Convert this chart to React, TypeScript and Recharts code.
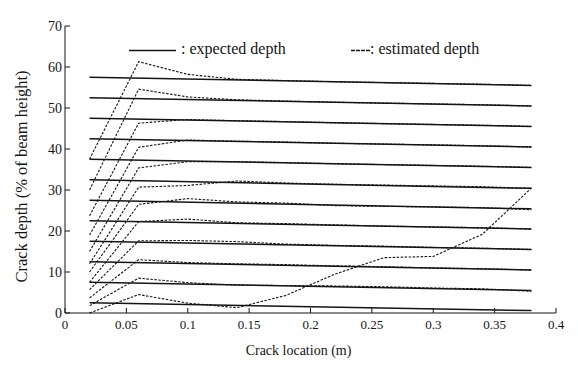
import { LineChart, Line, XAxis, YAxis, Label } from "recharts";

// crack locations (m) where the estimates were taken
const crackX = [0.02, 0.06, 0.1, 0.14, 0.18, 0.22, 0.26, 0.3, 0.34, 0.38];

// expected depth lines, value at x=0.02 and at x=0.38
const expectedStart = [57.5, 52.5, 47.5, 42.5, 37.5, 32.5, 27.5, 22.5, 17.5, 12.5, 7.5, 2.5];
const expectedEnd = [55.5, 50.5, 45.5, 40.5, 35.5, 30.4, 25.4, 20.5, 15.5, 10.5, 5.5, 0.6];

// estimated depths, one array per crack
const est57 = [37.5, 61.3, 58.2, 57.0, 56.7, 56.4, 56.2, 56.0, 55.8, 55.5];
const est52 = [30.0, 54.6, 52.7, 52.0, 51.7, 51.4, 51.2, 51.0, 50.8, 50.5];
const est47 = [23.7, 46.3, 47.2, 46.9, 46.7, 46.4, 46.2, 46.0, 45.8, 45.5];
const est42 = [19.0, 40.4, 42.2, 41.9, 41.7, 41.4, 41.2, 41.0, 40.8, 40.5];
const est37 = [15.0, 35.4, 36.9, 36.9, 36.7, 36.4, 36.2, 36.0, 35.8, 35.5];
const est32 = [12.0, 30.7, 31.1, 32.2, 31.7, 31.4, 31.2, 31.0, 30.8, 30.4];
const est27 = [10.0, 26.5, 27.9, 27.1, 26.8, 26.2, 26.0, 25.9, 25.7, 25.2];
const est22 = [7.5, 22.3, 22.9, 22.0, 21.8, 21.5, 21.2, 21.0, 20.8, 20.5];
const est17 = [5.7, 17.6, 17.7, 17.4, 16.8, 16.5, 16.3, 16.0, 15.8, 15.5];
const est12 = [3.7, 13.0, 12.3, 12.0, 11.8, 11.5, 11.3, 11.0, 10.8, 10.5];
const est7 = [1.8, 8.5, 7.4, 6.8, 6.7, 6.6, 6.4, 6.1, 5.9, 5.3];
const est2 = [0.0, 4.5, 2.4, 1.3, 4.3, 9.5, 13.5, 13.8, 19.2, 30.5];

const estimates = [est57, est52, est47, est42, est37, est32, est27, est22, est17, est12, est7, est2];

const xTicks = [0, 0.05, 0.1, 0.15, 0.2, 0.25, 0.3, 0.35, 0.4];
const yTicks = [0, 10, 20, 30, 40, 50, 60, 70];

const font = '"Liberation Serif", "DejaVu Serif", serif';
const ink = "#141414";

const estRows = crackX.map((x, i) => {
  const row: Record<string, number> = { x };
  estimates.forEach((s, k) => {
    row["e" + k] = s[i];
  });
  return row;
});

const expectedLines = expectedStart.map((v, k) => [
  { x: crackX[0], y: v },
  { x: crackX[crackX.length - 1], y: expectedEnd[k] },
]);

const fmtX = (v: number) => String(v);

function YTitle(props: any) {
  const vb = props.viewBox;
  const cx = 21;
  const cy = vb.y + vb.height / 2 + 7;
  return (
    <text
      x={cx}
      y={cy}
      transform={`rotate(-90 ${cx} ${cy})`}
      textAnchor="middle"
      dominantBaseline="central"
      fontFamily={font}
      fontSize={16.5}
      fill={ink}
    >
      Crack depth (% of beam height)
    </text>
  );
}

export default function App() {
  return (
    <div style={{ position: "absolute", left: 0, top: 0, width: 578, height: 369, background: "#fff" }}>
      <LineChart
        width={578}
        height={369}
        data={estRows}
        margin={{ top: 26, right: 22, bottom: 26, left: 35 }}
      >
        <XAxis
          xAxisId="b"
          dataKey="x"
          type="number"
          domain={[0, 0.4]}
          ticks={xTicks}
          tickFormatter={fmtX}
          height={30}
          tickSize={-5}
          tickMargin={12}
          stroke={ink}
          tick={{ fill: ink, fontFamily: font, fontSize: 13 }}
          allowDataOverflow
        >
          <Label
            value="Crack location (m)"
            position="bottom"
            offset={2}
            dx={-12}
            fill={ink}
            fontFamily={font}
            fontSize={14}
          />
        </XAxis>
        <XAxis
          xAxisId="t"
          orientation="top"
          dataKey="x"
          type="number"
          domain={[0, 0.4]}
          ticks={xTicks}
          tickFormatter={() => ""}
          height={0}
          tickSize={-5}
          stroke={ink}
        >
          <Label
            value="Estimated depth of crack"
            position="top"
            offset={9}
            dx={-12}
            fill={ink}
            fontFamily={font}
            fontSize={13}
          />
        </XAxis>
        <YAxis
          yAxisId="l"
          type="number"
          domain={[0, 70]}
          ticks={yTicks}
          width={30}
          tickSize={-5}
          tickMargin={8}
          stroke={ink}
          tick={{ fill: ink, fontFamily: font, fontSize: 14 }}
        >
          <Label content={<YTitle />} />
        </YAxis>
        <YAxis
          yAxisId="r"
          orientation="right"
          type="number"
          domain={[0, 70]}
          ticks={yTicks}
          width={0}
          tickSize={-5}
          tickFormatter={() => ""}
          stroke={ink}
        />
        {expectedLines.map((d, k) => (
          <Line
            key={"x" + k}
            xAxisId="b"
            yAxisId="l"
            data={d}
            dataKey="y"
            type="linear"
            stroke={ink}
            strokeWidth={1.5}
            dot={false}
            isAnimationActive={false}
          />
        ))}
        {estimates.map((_, k) => (
          <Line
            key={"e" + k}
            xAxisId="b"
            yAxisId="l"
            dataKey={"e" + k}
            type="linear"
            stroke={ink}
            strokeWidth={1.1}
            strokeDasharray="2.5 1.5"
            dot={false}
            isAnimationActive={false}
          />
        ))}
      </LineChart>
      <svg style={{ position: "absolute", left: 0, top: 0 }} width={578} height={60}>
        <line x1={129} y1={50.5} x2={176} y2={50.5} stroke={ink} strokeWidth={1.5} />
        <line x1={351} y1={50.5} x2={371} y2={50.5} stroke={ink} strokeWidth={1.5} strokeDasharray="4 1" />
      </svg>
      <div
        style={{ position: "absolute", left: 181, top: 40, fontFamily: font, fontSize: 16, color: ink, lineHeight: "18px", whiteSpace: "nowrap" }}
      >
        : expected depth
      </div>
      <div
        style={{ position: "absolute", left: 370, top: 40, fontFamily: font, fontSize: 16, color: ink, lineHeight: "18px", whiteSpace: "nowrap" }}
      >
        : estimated depth
      </div>
    </div>
  );
}
